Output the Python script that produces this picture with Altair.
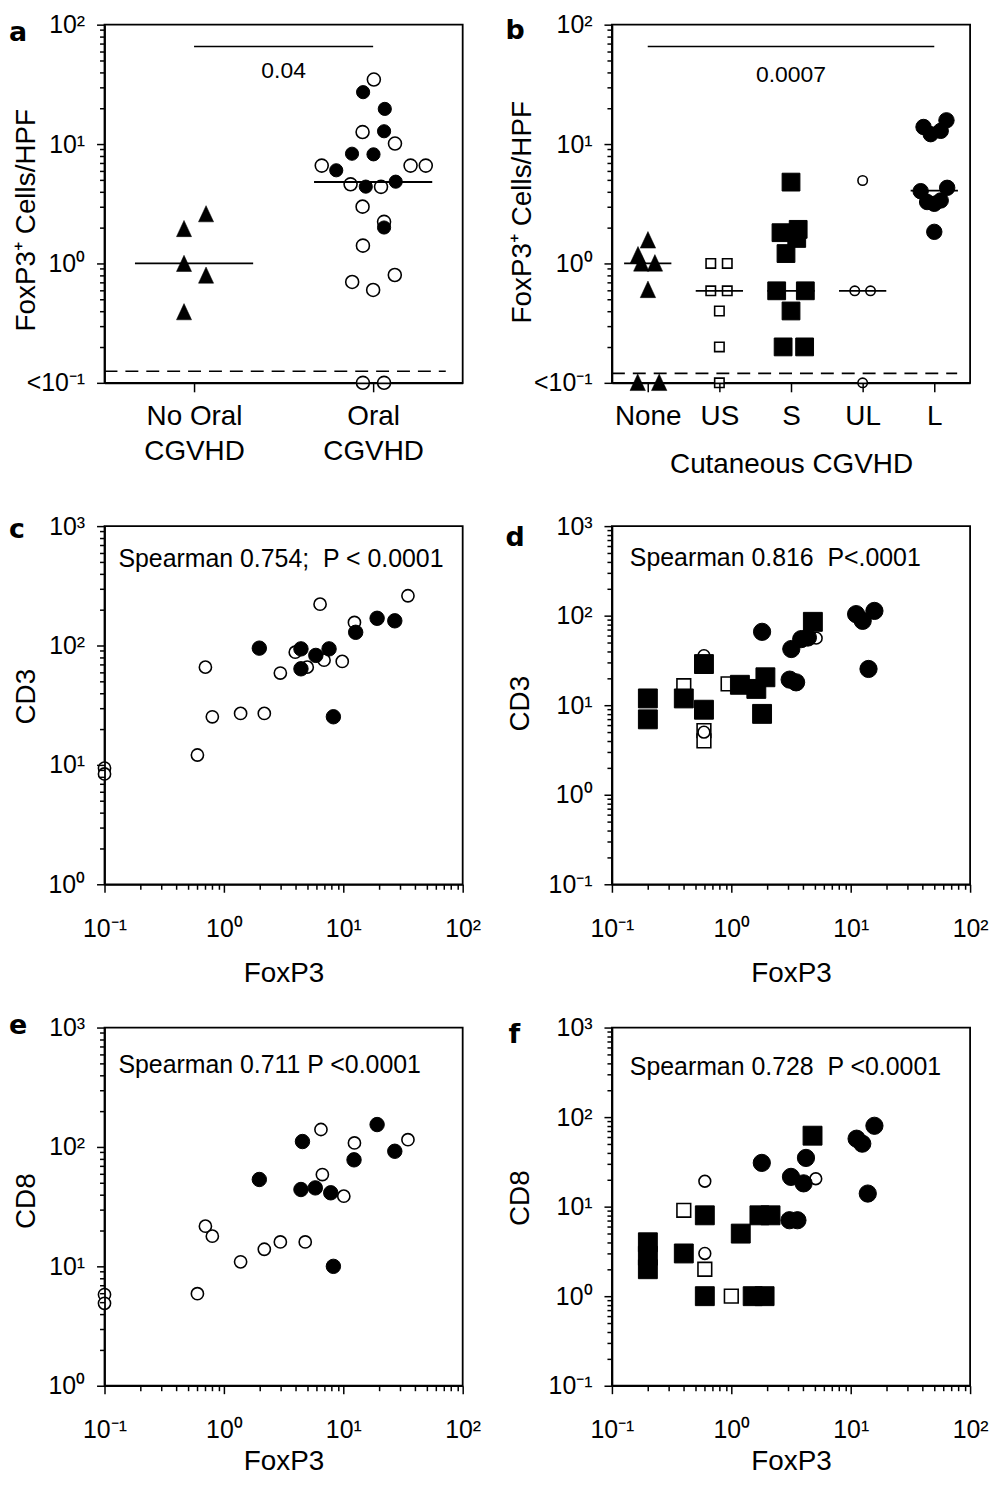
import json
import altair as alt
import pandas as pd

FONT = "Liberation Sans"
LETTER_FONT = "DejaVu Sans"
W, H = 360, 360

# ---------------- panel a : FoxP3+ cells/HPF by oral CGVHD ----------------
a_names = [["No Oral", "CGVHD"], ["Oral", "CGVHD"]]
a_cat = [0] * 5 + [1] * 16 + [1] * 9
a_grp = ["tri"] * 5 + ["oc"] * 16 + ["fc"] * 9
a_dx = [0.067, -0.056, -0.056, 0.067, -0.056,
        0.004, -0.059, 0.122, -0.287, 0.209, 0.294, -0.126, 0.044,
        -0.059, 0.061, -0.057, -0.117, 0.121, 0.0, -0.057, 0.061,
        -0.056, 0.065, 0.061, -0.118, 0.002, -0.206, -0.041, 0.126, 0.061]
a_val = [2.58, 1.94, 0.99, 0.79, 0.39,
         34.7, 12.6, 10.1, 6.6, 6.6, 6.6, 4.6, 4.38, 2.99, 2.23, 1.41, 0.70, 0.80, 0.60, 0.1, 0.1,
         27.2, 19.7, 12.8, 8.3, 8.2, 6.03, 4.40, 4.84, 2.0]
a_median = [1.0, 4.81]
a_pvalue = "0.04"
a_limit = 0.125

# ---------------- panel b : FoxP3+ cells/HPF by cutaneous CGVHD ----------------
b_names = ["None", "US", "S", "UL", "L"]
b_cat = [0] * 7 + [1] * 7 + [2] * 10 + [3] * 4 + [4] * 10
b_grp = ["tri"] * 7 + ["os"] * 7 + ["fs"] * 10 + ["oc"] * 4 + ["fc"] * 10
b_dx = [0.003, -0.136, -0.09, 0.10, 0.003, -0.14, 0.16,
        -0.12, 0.11, -0.12, 0.11, 0.0, 0.0, 0.0,
        0.0, -0.14, 0.10, 0.08, -0.07, -0.20, 0.20, 0.0, -0.11, 0.19,
        0.0, -0.11, 0.11, 0.0,
        -0.15, -0.05, 0.09, 0.17, -0.19, 0.18, -0.10, 0.09, 0.0, 0.0]
b_val = [1.56, 1.17, 1.0, 1.0, 0.6, 0.1, 0.1,
         1.0, 1.0, 0.59, 0.59, 0.4, 0.2, 0.1,
         4.8, 1.81, 1.93, 1.62, 1.21, 0.59, 0.59, 0.4, 0.2, 0.2,
         4.95, 0.59, 0.59, 0.1,
         13.9, 12.1, 12.9, 15.8, 4.03, 4.3, 3.27, 3.37, 3.16, 1.84]
b_median = [1.0, 0.59, 0.59, 0.59, 4.08]
b_pvalue = "0.0007"
b_limit = 0.12

# ---------------- panel c : CD3 vs FoxP3 (oral) ----------------
c_grp = ["oc"] * 15 + ["fc"] * 9
c_foxp3 = [0.1, 0.1, 0.6, 0.7, 0.8, 1.38, 2.18, 2.97, 6.39, 9.8, 12.4, 34.8, 3.96, 4.99, 6.9,
           1.98, 4.42, 5.89, 7.6, 4.42, 8.26, 12.7, 19.2, 27.0]
c_cd3 = [9.4, 8.4, 12.1, 65.9, 25.3, 27.0, 27.0, 58.8, 222, 73.6, 156, 261, 87.9, 65.9, 75.4,
         95, 93.7, 82.6, 93.7, 63.8, 25.3, 129, 169, 161]
c_text = "Spearman 0.754;\u00a0 P < 0.0001"

# ---------------- panel d : CD3 vs FoxP3 (cutaneous) ----------------
d_grp = ["os"] * 4 + ["oc"] * 3 + ["fs"] * 10 + ["fc"] * 10
d_foxp3 = [0.4, 0.59, 0.59, 0.94,
           0.59, 0.59, 5.14,
           0.2, 0.2, 0.4, 0.59, 0.59, 1.18, 1.62, 1.93, 1.81, 4.82,
           1.81, 3.18, 3.85, 4.38, 3.08, 3.49, 11.1, 12.6, 15.8, 14.1]
d_cd3 = [16.5, 5.2, 4.0, 17.3,
         35.7, 5.0, 56.1,
         11.9, 6.95, 11.9, 28.8, 8.9, 16.9, 15.2, 20.5, 8.0, 85.3,
         66, 42.4, 54.7, 57, 19.3, 18.0, 104, 87.5, 113, 25.4]
d_text = "Spearman 0.816\u00a0 P<.0001"

# ---------------- panel e : CD8 vs FoxP3 (oral) ----------------
e_grp = ["oc"] * 14 + ["fc"] * 9
e_foxp3 = [0.1, 0.1, 0.6, 0.7, 0.8, 1.38, 2.18, 2.97, 4.8, 6.5, 6.68, 10.1, 12.4, 34.8,
           1.98, 4.55, 4.42, 5.83, 7.85, 8.26, 12.3, 19.2, 27.0]
e_cd8 = [5.8, 4.9, 5.9, 21.7, 17.9, 10.9, 13.9, 16.0, 16.0, 140, 58.7, 38.7, 108, 115,
         53.4, 111, 44, 45.4, 41.3, 10.0, 78, 154, 92]
e_text = "Spearman 0.711 P <0.0001"

# ---------------- panel f : CD8 vs FoxP3 (cutaneous) ----------------
f_grp = ["os"] * 3 + ["oc"] * 3 + ["fs"] * 12 + ["fc"] * 10
f_foxp3 = [0.4, 0.6, 1.0,
           0.6, 0.6, 5.1,
           0.2, 0.2, 0.2, 0.4, 0.6, 0.6, 1.2, 1.72, 2.13, 1.51, 1.9, 4.79,
           1.8, 4.22, 3.16, 4.03, 3.07, 3.58, 11.2, 12.5, 15.8, 13.9]
f_cd8 = [9.1, 2.0, 1.0,
         19.2, 3.0, 20.5,
         4.0, 2.83, 2.0, 3.0, 8.0, 1.0, 5.0, 8.0, 8.0, 1.0, 1.0, 62,
         30.8, 35, 21.5, 18.2, 7.05, 7.05, 57.4, 50.5, 80, 14]
f_text = "Spearman 0.728\u00a0 P <0.0001"

POW_LABELS = {-1: "10⁻¹", 0: "10⁰", 1: "10¹", 2: "10²", 3: "10³"}

# ---------------- helpers ----------------
EXP = "round(log(datum.value) / LN10)"
IS_DECADE = f"abs(log(datum.value) / LN10 - {EXP}) < 0.001"


def pow_expr():
    s = "''"
    for e, lab in sorted(POW_LABELS.items(), reverse=True):
        s = f"{EXP} == {e} ? '{lab}' : {s}"
    return f"{IS_DECADE} ? ({s}) : ''"


LOG_LABEL = pow_expr()
BELOW_LABEL = "datum.value < 0.11 ? '<10⁻¹' : (" + LOG_LABEL + ")"
TICK_SIZE = {"condition": {"test": IS_DECADE, "value": 8}, "value": 5}


def log_values(lo, hi):
    v = []
    for e in range(lo, hi):
        v += [float(f"{k}e{e}") for k in range(1, 10)]
    return v + [float(f"1e{hi}")]


TRI = "M0,-1.15L1,1L-1,1Z"
STYLE = {
    "tri": dict(shape=TRI, fill="black", stroke="black", strokeWidth=0.5),
    "oc": dict(shape="circle", fill="white", stroke="black", strokeWidth=1.6),
    "fc": dict(shape="circle", fill="black", stroke="black", strokeWidth=1),
    "os": dict(shape="square", fill="white", stroke="black", strokeWidth=1.6),
    "fs": dict(shape="square", fill="black", stroke="black", strokeWidth=1),
}
ORDER = ["os", "oc", "tri", "fs", "fc"]


def markers(df, X, Y, sizes):
    out = []
    for g in ORDER:
        sub = df[df.g == g]
        if len(sub) == 0:
            continue
        out.append(alt.Chart(sub).mark_point(size=sizes[g], opacity=1, **STYLE[g])
                   .encode(x=X, y=Y))
    return out


def text_layer(txt, px, py, size, bold=False, font=FONT):
    return alt.Chart(pd.DataFrame({"t": [txt]})).mark_text(
        font=font, fontSize=size, fontWeight="bold" if bold else "normal",
        align="left", baseline="alphabetic", color="black"
    ).encode(text="t:N", x=alt.value(px), y=alt.value(py))


def y_axis(title, tx, ty, lo, hi, expr):
    return alt.Axis(title=title, values=log_values(lo, hi), labelExpr=expr,
                    tickSize=TICK_SIZE, labelPadding=12, labelOverlap=False,
                    labelFlush=False, titleX=tx, titleY=ty, titleAngle=270,
                    titleBaseline="alphabetic", zindex=1)


def dot_panel(letter, names, cat, grp, dx, val, median, pvalue, limit, sizes,
              x_title, ytx, yty, lx, ly, limit_x2, ptext_y):
    n = len(names)
    df = pd.DataFrame({"x": [c + 0.5 + d for c, d in zip(cat, dx)], "y": val, "g": grp})
    expr = f"{json.dumps(names, ensure_ascii=False)}[floor(datum.value)]"
    xaxis = alt.Axis(title=x_title, values=[i + 0.5 for i in range(n)], labelExpr=expr,
                     tickSize=9, labelPadding=33, labelBaseline="alphabetic",
                     labelFontSize=28, labelLineHeight=35, labelOverlap=False,
                     labelFlush=False, titleY=90, titleBaseline="alphabetic", zindex=1)
    X = alt.X("x:Q", scale=alt.Scale(domain=[0, n], nice=False, zero=False), axis=xaxis)
    Y = alt.Y("y:Q", scale=alt.Scale(type="log", domain=[0.1, 100], nice=False),
              axis=y_axis("FoxP3⁺ Cells/HPF", ytx, yty, -1, 2, BELOW_LABEL))
    layers = markers(df, X, Y, sizes)
    half = 0.33
    med = pd.DataFrame({"x": [i + 0.5 - half for i in range(n)],
                        "x2": [i + 0.5 + half for i in range(n)], "y": median})
    layers.append(alt.Chart(med).mark_rule(color="black", strokeWidth=1.8)
                  .encode(x=X, x2="x2:Q", y=Y))
    lim = pd.DataFrame({"y": [limit]})
    layers.append(alt.Chart(lim).mark_rule(color="black", strokeWidth=1.6, strokeDash=[13, 8])
                  .encode(y=Y, x=alt.value(0), x2=alt.value(limit_x2)))
    bar = pd.DataFrame({"x": [0.5], "x2": [n - 0.5]})
    layers.append(alt.Chart(bar).mark_rule(color="black", strokeWidth=1.6)
                  .encode(x=X, x2="x2:Q", y=alt.value(22)))
    ptxt = pd.DataFrame({"x": [n / 2], "t": [pvalue]})
    layers.append(alt.Chart(ptxt).mark_text(font=FONT, fontSize=23, baseline="middle",
                                            color="black")
                  .encode(x=X, text="t:N", y=alt.value(ptext_y)))
    layers.append(text_layer(letter, lx, ly, 27, bold=True, font=LETTER_FONT))
    return alt.layer(*layers).properties(width=W, height=H)


def scatter_panel(letter, foxp3, yv, grp, ylo, yhi, ytitle, stext, sizes,
                  ytx, yty, sx, sy, lx, ly, xty):
    df = pd.DataFrame({"x": foxp3, "y": yv, "g": grp})
    xaxis = alt.Axis(title="FoxP3", values=log_values(-1, 2), labelExpr=LOG_LABEL,
                     tickSize=TICK_SIZE, labelPadding=44, labelBaseline="alphabetic",
                     labelOverlap=False, labelFlush=False, titleY=xty,
                     titleBaseline="alphabetic", zindex=1)
    X = alt.X("x:Q", scale=alt.Scale(type="log", domain=[0.1, 100], nice=False), axis=xaxis)
    Y = alt.Y("y:Q", scale=alt.Scale(type="log", domain=[10.0 ** ylo, 10.0 ** yhi], nice=False),
              axis=y_axis(ytitle, ytx, yty, ylo, yhi, LOG_LABEL))
    layers = markers(df, X, Y, sizes)
    layers.append(text_layer(stext, sx, sy, 25))
    layers.append(text_layer(letter, lx, ly, 27, bold=True, font=LETTER_FONT))
    return alt.layer(*layers).properties(width=W, height=H)


pa = dot_panel("a", a_names, a_cat, a_grp, a_dx, a_val, a_median, a_pvalue, a_limit,
               {"tri": 230, "oc": 170, "fc": 175}, None, -70, 196, -96, 16, 343, 47)
pb = dot_panel("b", b_names, b_cat, b_grp, b_dx, b_val, b_median, b_pvalue, b_limit,
               {"tri": 240, "os": 90, "fs": 320, "oc": 90, "fc": 240}, "Cutaneous CGVHD",
               -82, 188, -107, 14, 347, 51)
SC = {"oc": 150, "fc": 210}
SD = {"os": 190, "oc": 140, "fs": 361, "fc": 300}
pc = scatter_panel("c", c_foxp3, c_cd3, c_grp, 0, 3, "CD3", c_text, SC, -70, 171, 14, 41, -96, 12, 98)
pd_ = scatter_panel("d", d_foxp3, d_cd3, d_grp, -1, 3, "CD3", d_text, SD, -84, 178, 18, 40, -107, 20, 98)
pe = scatter_panel("e", e_foxp3, e_cd8, e_grp, 0, 3, "CD8", e_text, SC, -70, 174, 14, 46, -96, 6, 84)
pf = scatter_panel("f", f_foxp3, f_cd8, f_grp, -1, 3, "CD8", f_text, SD, -84, 171, 18, 48, -104, 16, 84)

chart = alt.concat(pa, pb, pc, pd_, pe, pf, columns=2, bounds="flush",
                   spacing=alt.RowColnumber(row=144, column=150)).properties(
    padding={"left": 0, "top": 0, "right": 0, "bottom": 0}
).configure_view(stroke="black", strokeWidth=1.8).configure_axis(
    domainColor="black", domainWidth=1.8, tickColor="black", tickWidth=1.5,
    labelColor="black", labelFont=FONT, labelFontSize=25, titleFont=FONT,
    titleFontSize=28, titleFontWeight="normal", titleColor="black", grid=False
)

chart.save("out.html", embed_options={"renderer": "svg", "actions": False})
